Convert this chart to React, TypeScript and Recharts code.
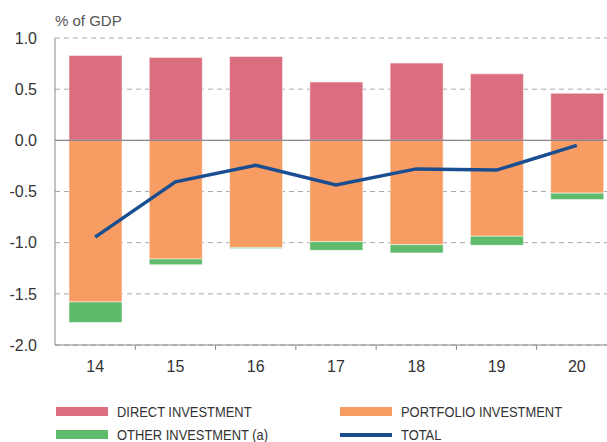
import {
  ComposedChart,
  Bar,
  Line,
  XAxis,
  YAxis,
  CartesianGrid,
  ReferenceLine,
} from 'recharts';

const years = ['14', '15', '16', '17', '18', '19', '20'];
const direct = [0.83, 0.81, 0.82, 0.57, 0.755, 0.65, 0.46];
const portfolio = [-1.58, -1.16, -1.048, -0.99, -1.02, -0.937, -0.516];
const other = [-0.2, -0.055, -0.01, -0.085, -0.08, -0.088, -0.063];
const total = [-0.946, -0.405, -0.243, -0.435, -0.279, -0.291, -0.05];
const yTicks = [-2, -1.5, -1, -0.5, 0, 0.5, 1];

const COLORS = {
  direct: '#db6e7e',
  portfolio: '#f79d63',
  other: '#5dbb6b',
  total: '#1b4e91',
};

const data = years.map((year, i) => ({
  year,
  direct: direct[i],
  portfolio: portfolio[i],
  other: other[i],
  total: total[i],
}));

const LEGEND = [
  { label: 'DIRECT INVESTMENT', color: COLORS.direct, left: 56, top: 404, line: false },
  { label: 'PORTFOLIO INVESTMENT', color: COLORS.portfolio, left: 340, top: 404, line: false },
  { label: 'OTHER INVESTMENT (a)', color: COLORS.other, left: 56, top: 427, line: false },
  { label: 'TOTAL', color: COLORS.total, left: 340, top: 427, line: true },
];

const PLOT_LEFT = 55;
const PLOT_WIDTH = 562;

function XTick(props: any) {
  const { x, y, payload, index } = props;
  const step = PLOT_WIDTH / years.length;
  return (
    <g>
      {index > 0 && (
        <line x1={x - step / 2} x2={x - step / 2} y1={y - 8} y2={y - 3} stroke="#888" strokeWidth={1} />
      )}
      <text x={x} y={y + 19} textAnchor="middle" fill="#333" fontSize={16}>
        {payload.value}
      </text>
    </g>
  );
}

export default function App() {
  return (
    <div
      style={{
        position: 'fixed',
        left: 0,
        top: 0,
        width: 607,
        height: 442,
        overflow: 'hidden',
        background: '#fff',
        fontFamily: '"Liberation Sans", Arial, sans-serif',
      }}
    >
      <div style={{ position: 'absolute', left: 55, top: 12, fontSize: 15, color: '#555' }}>% of GDP</div>
      <ComposedChart
        width={620}
        height={442}
        data={data}
        stackOffset="sign"
        margin={{ top: 38, right: 3, bottom: 67, left: 0 }}
      >
        <CartesianGrid vertical={false} stroke="#aaa" strokeDasharray="5 4" />
        <XAxis
          dataKey="year"
          height={30}
          axisLine={{ stroke: '#888' }}
          tickLine={false}
          tick={<XTick />}
          interval={0}
        />
        <YAxis
          width={PLOT_LEFT}
          domain={[-2, 1]}
          ticks={yTicks}
          tickFormatter={(v: number) => v.toFixed(1)}
          axisLine={{ stroke: '#888' }}
          tickLine={false}
          tickMargin={12}
          tick={{ fill: '#333', fontSize: 16 }}
        />
        <Bar dataKey="direct" stackId="a" fill={COLORS.direct} barSize={53} stroke="rgba(255,255,255,0.5)" isAnimationActive={false} />
        <Bar dataKey="portfolio" stackId="a" fill={COLORS.portfolio} barSize={53} stroke="rgba(255,255,255,0.5)" isAnimationActive={false} />
        <Bar dataKey="other" stackId="a" fill={COLORS.other} barSize={53} stroke="rgba(255,255,255,0.5)" isAnimationActive={false} />
        <ReferenceLine y={0} stroke="#888" strokeWidth={1.2} />
        <Line
          dataKey="total"
          type="linear"
          stroke={COLORS.total}
          strokeWidth={3.5}
          dot={false}
          isAnimationActive={false}
        />
      </ComposedChart>
      {LEGEND.map((item) => (
        <div
          key={item.label}
          style={{
            position: 'absolute',
            left: item.left,
            top: item.top,
            height: 15,
            display: 'flex',
            alignItems: 'center',
            fontSize: 15,
            lineHeight: '15px',
            color: '#333',
            whiteSpace: 'nowrap',
          }}
        >
          <span
            style={{
              display: 'inline-block',
              width: 52,
              height: item.line ? 4 : 9,
              background: item.color,
              marginRight: 9,
            }}
          />
          <span style={{ display: 'inline-block', transform: 'scaleX(0.86)', transformOrigin: 'left center' }}>
            {item.label}
          </span>
        </div>
      ))}
    </div>
  );
}
